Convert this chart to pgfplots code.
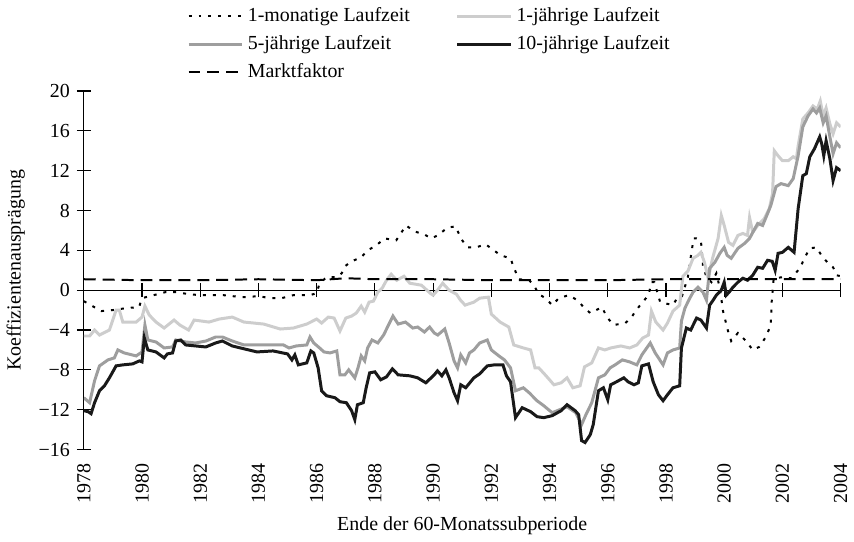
\documentclass[border=0pt]{standalone}
\usepackage{fontspec}
\setmainfont{Liberation Serif}
\usepackage{pgfplots}
\pgfplotsset{compat=1.18}
\usepackage{pgfplotstable}

\definecolor{hellgrau}{RGB}{205,205,205}
\definecolor{mittelgrau}{RGB}{158,158,158}
\definecolor{fastschwarz}{RGB}{25,25,25}

% 1-monatige Laufzeit
\pgfplotstableread{
t v
1978.00 -1.1
1978.30 -1.6
1978.60 -2.1
1979.00 -2.0
1979.45 -1.8
1979.90 -1.7
1980.00 -0.8
1980.40 -0.5
1980.80 -0.2
1981.20 -0.2
1981.60 -0.4
1982.00 -0.5
1982.80 -0.5
1983.10 -0.6
1983.50 -0.7
1984.00 -0.6
1984.40 -0.8
1984.80 -0.8
1985.20 -0.5
1985.77 -0.5
1986.00 -0.3
1986.10 0.7
1986.34 1.3
1986.69 1.3
1986.86 1.7
1986.97 2.4
1987.20 2.9
1987.53 3.3
1987.75 4.0
1988.05 4.5
1988.33 5.2
1988.73 5.0
1989.07 6.5
1989.36 5.9
1989.70 5.6
1989.93 5.2
1990.16 5.5
1990.50 6.3
1990.78 6.4
1990.95 5.2
1991.18 4.3
1991.47 4.3
1991.81 4.6
1992.04 4.1
1992.32 3.5
1992.66 3.2
1992.78 2.2
1992.95 1.1
1993.30 1.0
1993.46 0.5
1993.63 -0.4
1993.86 -0.8
1994.09 -1.5
1994.32 -0.8
1994.66 -0.5
1994.95 -1.0
1995.17 -1.7
1995.40 -2.3
1995.60 -2.0
1995.80 -1.7
1995.97 -2.7
1996.20 -3.5
1996.60 -3.3
1996.80 -2.8
1996.95 -2.1
1997.17 -1.3
1997.40 -0.5
1997.50 0.8
1997.60 0.8
1997.80 -1.2
1998.24 -1.5
1998.40 -0.7
1998.55 -0.6
1998.75 1.3
1998.87 3.7
1998.95 5.2
1999.05 5.2
1999.20 5.0
1999.27 2.5
1999.39 1.3
1999.56 0.8
1999.73 1.7
1999.85 0.2
1999.96 -2.1
2000.13 -4.1
2000.24 -5.1
2000.47 -4.3
2000.75 -5.1
2000.98 -6.0
2001.20 -5.7
2001.43 -4.7
2001.60 -3.5
2001.63 -1.2
2001.70 1.2
2002.00 1.3
2002.30 1.2
2002.60 2.2
2002.77 3.3
2002.94 4.2
2003.17 4.3
2003.34 3.5
2003.57 2.7
2003.74 2.3
2003.86 1.5
2004.00 1.4
}\monat

% 1-jaehrige Laufzeit
\pgfplotstableread{
t v
1978.00 -4.6
1978.20 -4.6
1978.37 -4.0
1978.54 -4.5
1978.88 -4.0
1979.11 -2.0
1979.22 -2.0
1979.34 -3.2
1979.80 -3.2
1980.00 -2.7
1980.10 -1.6
1980.25 -2.5
1980.48 -3.2
1980.76 -3.8
1981.10 -3.0
1981.30 -3.5
1981.60 -4.0
1981.79 -3.0
1982.30 -3.2
1982.65 -2.9
1983.10 -2.7
1983.50 -3.2
1984.18 -3.4
1984.75 -3.9
1985.20 -3.8
1985.66 -3.4
1986.00 -2.9
1986.17 -3.3
1986.40 -2.7
1986.60 -2.8
1986.80 -4.1
1987.00 -2.8
1987.20 -2.6
1987.36 -2.3
1987.53 -1.6
1987.65 -2.2
1987.80 -1.2
1987.95 -1.1
1988.10 -0.2
1988.25 0.2
1988.40 1.0
1988.56 1.6
1988.75 1.0
1989.00 1.4
1989.20 0.7
1989.60 0.5
1989.90 -0.3
1990.00 -0.5
1990.15 0.0
1990.33 0.7
1990.55 0.0
1990.80 -0.4
1990.94 -1.0
1991.10 -1.5
1991.40 -1.2
1991.60 -0.8
1991.90 -0.7
1992.00 -2.4
1992.30 -3.2
1992.60 -3.7
1992.77 -5.5
1993.10 -5.8
1993.35 -6.0
1993.50 -7.8
1993.63 -7.8
1993.85 -8.5
1994.15 -9.5
1994.40 -9.3
1994.60 -8.8
1994.80 -9.8
1995.05 -9.6
1995.20 -7.7
1995.45 -7.3
1995.68 -5.8
1995.90 -6.0
1996.10 -5.8
1996.45 -5.6
1996.75 -5.8
1997.00 -5.5
1997.20 -4.8
1997.40 -4.5
1997.50 -2.1
1997.65 -3.2
1997.90 -4.0
1998.05 -3.3
1998.24 -2.1
1998.47 -1.5
1998.58 1.4
1998.75 1.9
1998.93 3.2
1999.10 3.5
1999.20 3.8
1999.32 2.8
1999.45 1.2
1999.60 3.2
1999.79 5.2
1999.90 7.5
2000.00 6.5
2000.15 4.8
2000.30 4.5
2000.47 5.5
2000.64 5.7
2000.80 5.5
2000.87 7.3
2000.98 5.8
2001.15 6.5
2001.38 7.2
2001.55 8.2
2001.66 9.7
2001.72 14.0
2001.85 13.5
2002.00 13.0
2002.20 13.0
2002.37 13.4
2002.48 13.2
2002.54 14.5
2002.70 17.2
2002.88 17.8
2003.05 18.5
2003.20 18.2
2003.30 19.0
2003.40 17.5
2003.50 18.3
2003.63 16.7
2003.74 15.7
2003.86 16.8
2004.00 16.4
}\einjahr

% 5-jaehrige Laufzeit
\pgfplotstableread{
t v
1978.00 -10.8
1978.20 -11.3
1978.37 -9.1
1978.54 -7.6
1978.83 -7.0
1979.05 -6.8
1979.17 -6.0
1979.39 -6.3
1979.80 -6.6
1980.00 -6.2
1980.10 -3.5
1980.20 -5.0
1980.48 -5.2
1980.76 -5.8
1981.05 -5.7
1981.16 -5.0
1981.50 -5.2
1981.84 -5.3
1982.20 -5.1
1982.53 -4.7
1982.76 -4.7
1983.10 -5.1
1983.50 -5.5
1983.95 -5.5
1984.40 -5.5
1984.86 -5.5
1985.05 -5.8
1985.30 -5.6
1985.66 -5.5
1985.77 -4.7
1985.90 -5.3
1986.10 -5.8
1986.25 -6.2
1986.46 -6.3
1986.69 -6.1
1986.80 -8.5
1986.97 -8.5
1987.10 -8.0
1987.31 -8.8
1987.42 -7.8
1987.53 -6.6
1987.65 -7.1
1987.75 -5.8
1987.90 -5.0
1988.10 -5.3
1988.30 -4.5
1988.45 -3.6
1988.62 -2.6
1988.80 -3.4
1989.05 -3.2
1989.30 -3.8
1989.47 -3.7
1989.70 -4.2
1989.88 -3.7
1990.04 -4.3
1990.16 -4.5
1990.40 -3.9
1990.55 -5.3
1990.72 -7.1
1990.84 -7.8
1990.95 -6.5
1991.12 -7.3
1991.25 -6.3
1991.40 -6.0
1991.60 -5.3
1991.86 -5.0
1992.00 -6.0
1992.26 -6.6
1992.45 -7.0
1992.66 -7.8
1992.83 -10.1
1993.10 -9.8
1993.30 -10.3
1993.57 -11.1
1993.80 -11.6
1994.09 -12.3
1994.35 -12.0
1994.60 -11.7
1994.90 -12.3
1995.10 -13.5
1995.25 -12.5
1995.45 -11.3
1995.68 -8.8
1995.90 -8.5
1996.08 -7.8
1996.25 -7.5
1996.50 -7.0
1996.75 -7.2
1997.00 -7.5
1997.17 -6.5
1997.46 -5.3
1997.63 -6.3
1997.90 -7.5
1998.05 -6.3
1998.24 -6.0
1998.47 -5.8
1998.53 -3.1
1998.65 -1.8
1998.80 -0.9
1998.93 -0.2
1999.10 0.3
1999.27 -0.2
1999.39 -1.0
1999.50 2.2
1999.68 2.8
1999.85 3.7
2000.00 4.3
2000.10 3.5
2000.24 3.2
2000.47 4.2
2000.70 4.7
2000.87 5.2
2000.98 5.8
2001.15 6.7
2001.32 6.5
2001.49 7.7
2001.60 8.5
2001.78 10.4
2001.95 10.7
2002.20 10.5
2002.37 11.2
2002.54 13.5
2002.70 16.4
2002.88 17.5
2003.05 18.2
2003.17 17.8
2003.28 18.3
2003.40 16.8
2003.50 17.5
2003.63 15.4
2003.74 13.7
2003.86 14.8
2004.00 14.3
}\fuenfjahr

% 10-jaehrige Laufzeit
\pgfplotstableread{
t v
1978.00 -12.1
1978.15 -12.2
1978.25 -12.4
1978.37 -11.3
1978.54 -10.1
1978.71 -9.6
1978.88 -8.8
1979.11 -7.6
1979.34 -7.5
1979.68 -7.4
1979.91 -7.1
1980.00 -7.2
1980.08 -4.8
1980.20 -6.0
1980.48 -6.2
1980.76 -6.8
1980.87 -6.4
1981.05 -6.3
1981.16 -5.1
1981.33 -5.0
1981.50 -5.5
1981.84 -5.6
1982.19 -5.7
1982.53 -5.3
1982.76 -5.1
1983.10 -5.6
1983.38 -5.8
1983.95 -6.2
1984.50 -6.1
1985.00 -6.4
1985.15 -7.0
1985.25 -6.5
1985.37 -7.5
1985.66 -7.3
1985.80 -6.1
1985.90 -6.3
1986.05 -7.8
1986.17 -10.1
1986.34 -10.6
1986.63 -10.8
1986.80 -11.2
1987.02 -11.3
1987.20 -12.1
1987.31 -13.0
1987.40 -11.5
1987.60 -11.3
1987.70 -9.8
1987.82 -8.3
1988.00 -8.2
1988.20 -9.0
1988.40 -8.7
1988.60 -7.9
1988.80 -8.5
1989.20 -8.6
1989.47 -8.8
1989.75 -9.3
1990.04 -8.5
1990.15 -8.1
1990.30 -8.6
1990.44 -8.0
1990.55 -8.8
1990.72 -10.3
1990.84 -11.1
1990.95 -9.5
1991.12 -9.8
1991.40 -8.8
1991.60 -8.4
1991.86 -7.6
1992.10 -7.5
1992.40 -7.5
1992.52 -8.6
1992.66 -9.2
1992.83 -12.8
1993.06 -11.8
1993.35 -12.2
1993.57 -12.7
1993.80 -12.8
1994.09 -12.6
1994.40 -12.1
1994.60 -11.5
1994.88 -12.1
1995.00 -12.5
1995.10 -15.1
1995.22 -15.3
1995.40 -14.5
1995.50 -13.5
1995.68 -10.1
1995.85 -9.8
1996.00 -11.0
1996.10 -9.5
1996.30 -9.2
1996.55 -8.8
1996.70 -9.2
1996.90 -9.5
1997.05 -9.3
1997.17 -7.6
1997.40 -7.4
1997.56 -9.2
1997.74 -10.5
1997.90 -11.1
1998.05 -10.5
1998.24 -9.8
1998.47 -9.6
1998.53 -5.8
1998.70 -3.8
1998.85 -4.0
1999.05 -2.8
1999.20 -3.0
1999.39 -3.8
1999.50 -1.5
1999.62 -1.0
1999.73 -0.5
1999.90 0.0
2000.00 0.8
2000.07 -0.5
2000.17 -0.2
2000.30 0.3
2000.47 0.8
2000.64 1.2
2000.80 1.0
2000.98 1.5
2001.15 2.3
2001.32 2.2
2001.49 3.0
2001.65 2.9
2001.75 2.0
2001.85 3.7
2002.00 3.8
2002.20 4.3
2002.40 3.8
2002.54 8.2
2002.70 11.5
2002.82 11.7
2002.94 13.4
2003.10 14.2
2003.28 15.4
2003.35 14.7
2003.42 13.5
2003.50 15.0
2003.63 13.2
2003.74 11.0
2003.86 12.3
2004.00 12.0
}\zehnjahr

% Marktfaktor
\pgfplotstableread{
t v
1978.0 1.1
1980.0 1.0
1982.0 1.0
1984.0 1.1
1986.0 1.0
1987.0 1.2
1988.0 1.1
1990.0 1.1
1992.0 1.0
1994.0 1.0
1996.0 1.0
1998.0 1.1
2000.0 1.1
2002.0 1.1
2004.0 1.1
}\markt

\begin{document}
\begin{tikzpicture}
\pgfplotsset{every axis/.append style={
  scale only axis, width=380pt, height=180pt,
  xmin=1978, xmax=2004, ymin=-16, ymax=20}}

% Nulllinie mit Jahresstrichen
\begin{axis}[
  axis x line=middle, axis y line=none,
  x axis line style={-, line width=0.6pt},
  xtick={1978,1980,...,2004}, xticklabels={},
  ytick=\empty,
  tick align=center, major tick length=7pt,
  x tick style={line width=0.6pt, black},
]
\addplot[draw=none] coordinates {(1978,0)};
\end{axis}

\begin{axis}[
  axis x line=bottom, axis y line=left,
  axis line style={-},
  x axis line style={draw=none},
  y axis line style={line width=0.6pt},
  xtick={1978,1980,...,2004},
  xticklabels={1978,1980,1982,1984,1986,1988,1990,1992,1994,1996,1998,2000,2002,2004},
  x tick style={draw=none},
  xticklabel style={rotate=90, anchor=east},
  ytick={-16,-12,...,20},
  yticklabels={−16,−12,−8,−4,0,4,8,12,16,20},
  y tick style={line width=0.6pt, black},
  tick align=center, major tick length=7pt,
  xlabel={Ende der 60-Monatssubperiode},
  ylabel={Koeffizientenausprägung},
  legend columns=2,
  legend cell align=left,
  legend style={draw=none, fill=none, at={(0.128,1.255)}, anchor=north west,
    row sep=1.5pt,
    /tikz/every even column/.append style={column sep=21pt}},
  legend image code/.code={\draw[#1] (0cm,0cm) -- (0.95cm,0cm);},
]
\addplot[black, line width=1pt, dash pattern=on 1.5pt off 3.5pt] table[x=t, y=v] {\monat};
\addlegendentry{1-monatige Laufzeit}
\addplot[hellgrau, line width=1.5pt] table[x=t, y=v] {\einjahr};
\addlegendentry{1-jährige Laufzeit}
\addplot[mittelgrau, line width=1.5pt] table[x=t, y=v] {\fuenfjahr};
\addlegendentry{5-jährige Laufzeit}
\addplot[fastschwarz, line width=1.5pt] table[x=t, y=v] {\zehnjahr};
\addlegendentry{10-jährige Laufzeit}
\addplot[black, line width=1pt, dash pattern=on 6pt off 3.5pt] table[x=t, y=v] {\markt};
\addlegendentry{Marktfaktor}
\end{axis}
\end{tikzpicture}
\end{document}
